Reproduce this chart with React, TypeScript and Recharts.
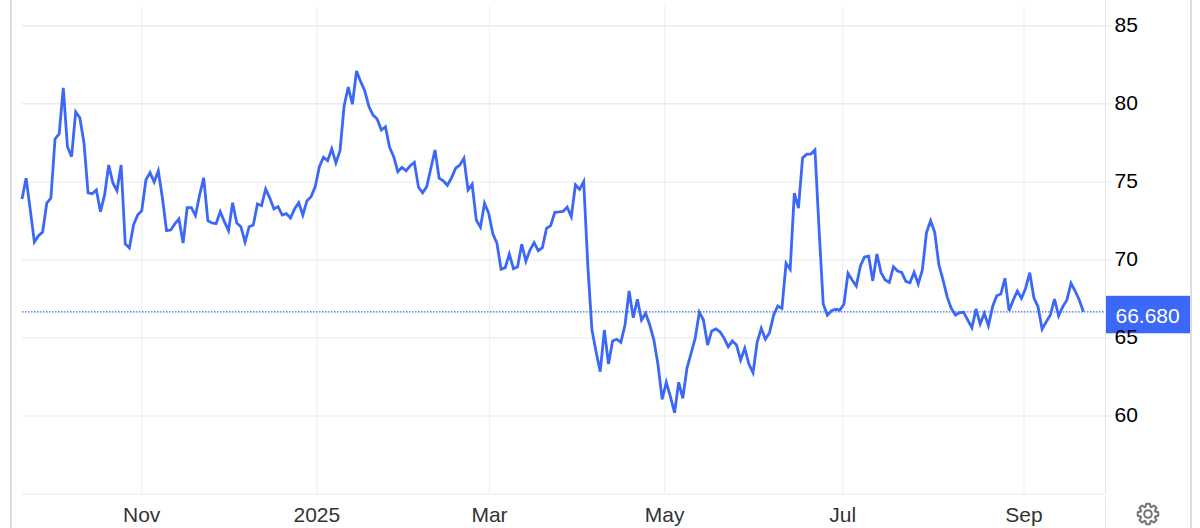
import React from 'react'
import { LineChart, Line, XAxis, YAxis, CartesianGrid, ReferenceLine } from 'recharts'

const prices = [
  73.91, 75.24, 73.21, 71.15, 71.56, 71.79, 73.65, 73.97, 77.76, 78.08, 81.03, 77.26, 76.62, 79.49, 79.12, 77.52,
  74.31, 74.25, 74.49, 73.10, 74.17, 76.09, 74.94, 74.44, 76.09, 71.03, 70.77, 72.24, 72.88, 73.16, 75.13, 75.60,
  75.00, 75.71, 73.97, 71.88, 71.92, 72.31, 72.63, 71.09, 73.35, 73.35, 72.84, 74.17, 75.26, 72.52, 72.37, 72.33,
  73.10, 72.46, 71.88, 73.67, 72.37, 72.13, 71.15, 72.13, 72.24, 73.59, 73.48, 74.55, 73.97, 73.27, 73.42, 72.88,
  72.97, 72.69, 73.27, 73.67, 72.88, 73.80, 74.06, 74.70, 75.98, 76.58, 76.37, 77.12, 76.22, 77.01, 79.89, 81.09,
  79.98, 82.12, 81.43, 80.83, 79.83, 79.29, 79.04, 78.33, 78.54, 77.22, 76.62, 75.66, 75.94, 75.72, 76.04, 76.26,
  74.66, 74.31, 74.70, 75.88, 77.05, 75.24, 75.08, 74.79, 75.26, 75.88, 76.09, 76.52, 74.49, 74.85, 72.56, 72.10,
  73.63, 72.99, 71.67, 71.07, 69.40, 69.51, 70.38, 69.44, 69.57, 71.01, 69.92, 70.64, 71.11, 70.60, 70.79, 72.03,
  72.20, 73.06, 73.08, 73.12, 73.38, 72.78, 74.81, 74.53, 75.02, 69.62, 65.51, 64.12, 62.84, 65.51, 63.33, 64.81,
  64.92, 64.72, 65.83, 68.01, 66.30, 67.48, 66.15, 66.58, 65.83, 64.87, 63.27, 61.07, 62.16, 61.24, 60.21, 62.16,
  61.13, 63.06, 64.02, 64.98, 66.65, 66.15, 64.55, 65.45, 65.58, 65.40, 64.98, 64.44, 64.81, 64.55, 63.59, 64.34,
  63.33, 62.78, 64.72, 65.62, 64.92, 65.34, 66.47, 67.05, 66.90, 69.79, 69.40, 74.29, 73.33, 76.54, 76.78, 76.79,
  77.05, 71.92, 67.18, 66.47, 66.75, 66.84, 66.78, 67.16, 69.15, 68.72, 68.33, 69.62, 70.19, 70.24, 68.67, 70.38,
  69.19, 68.72, 68.57, 69.57, 69.29, 69.21, 68.63, 68.54, 69.21, 68.46, 69.36, 71.75, 72.52, 71.78, 69.68, 68.72,
  67.65, 66.90, 66.47, 66.62, 66.65, 66.15, 65.66, 66.86, 65.90, 66.58, 65.79, 67.01, 67.71, 67.82, 68.83, 66.75,
  67.44, 68.01, 67.54, 68.19, 69.19, 67.58, 67.01, 65.56, 66.04, 66.47, 67.50, 66.41, 67.01, 67.44, 68.51, 68.01,
  67.44, 66.68,
]
const monthLabels = ['Nov', '2025', 'Mar', 'May', 'Jul', 'Sep']
const monthPositions = [28.98, 71.4, 113.2, 155.6, 198.7, 242.6]
const priceTicks = [60, 65, 70, 75, 80, 85]
const lastPrice = 66.68

const data = prices.map((price, idx) => ({ idx, price }))

const BLUE = '#3b68f6'
const FONT = 'Helvetica, "Liberation Sans", Arial, sans-serif'

// value badge on the right axis
function PriceBadge({ viewBox }: any) {
  const y = viewBox.y
  const x = viewBox.x + viewBox.width
  return (
    <g>
      <rect x={x + 2.5} y={y - 16} width={84.5} height={37.5} fill={BLUE} />
      <text x={x + 12} y={y + 11.5} fill="#fff" fontSize={21} fontFamily={FONT}>66.680</text>
    </g>
  )
}

function gearPath(cx: number, cy: number) {
  const pts: string[] = []
  for (let i = 0; i < 8; i++) {
    const a = (i * Math.PI) / 4
    for (const [r, d] of [[7.6, -0.34], [10.4, -0.17], [10.4, 0.17], [7.6, 0.34]]) {
      pts.push(`${(cx + r * Math.sin(a + d)).toFixed(2)},${(cy - r * Math.cos(a + d)).toFixed(2)}`)
    }
  }
  return 'M' + pts.join('L') + 'Z'
}

export default function App() {
  return (
    <div style={{ position: 'absolute', left: 0, top: 0, width: 1200, height: 528, background: '#fff', overflow: 'hidden' }}>
      <LineChart width={1200} height={528} data={data} margin={{ top: 6, right: 0, bottom: 0, left: 22 }}>
        <CartesianGrid horizontal={false} syncWithTicks stroke="#eef1f6" strokeWidth={1.2} />
        <CartesianGrid vertical={false} syncWithTicks stroke="#e7e7e7" strokeWidth={1.2} />
        <XAxis
          dataKey="idx"
          type="number"
          domain={[0, 261.86]}
          ticks={monthPositions}
          tickFormatter={(v: number) => monthLabels[monthPositions.indexOf(v)]}
          interval={0}
          axisLine={{ stroke: '#e7e7e7', strokeWidth: 1.2 }}
          tickLine={false}
          tickMargin={7}
          tick={{ fontSize: 21, fill: '#333', fontFamily: FONT }}
          height={34}
        />
        <YAxis
          orientation="right"
          domain={[55, 86.28]}
          ticks={priceTicks}
          interval={0}
          axisLine={false}
          tickLine={{ stroke: '#e7e7e7' }}
          tickSize={8}
          tickMargin={3}
          tick={{ fontSize: 21, fill: '#000', fontFamily: FONT, dy: -1 }}
          width={96.5}
        />
        <ReferenceLine y={lastPrice} stroke={BLUE} strokeDasharray="1.5 1.5" strokeWidth={1.2} label={<PriceBadge />} />
        <Line dataKey="price" type="linear" stroke={BLUE} strokeWidth={2.8} dot={false} isAnimationActive={false} />
      </LineChart>
      {/* frame lines and settings icon */}
      <div style={{ position: 'absolute', left: 10, top: 0, width: 1.5, height: 528, background: '#dcdcdc' }} />
      <div style={{ position: 'absolute', left: 1190, top: 0, width: 1.5, height: 528, background: '#dcdcdc' }} />
      <div style={{ position: 'absolute', left: 1105, top: 0, width: 1, height: 494, background: '#e7e7e7' }} />
      <div style={{ position: 'absolute', left: 1105, top: 497, width: 1, height: 31, background: '#e7e7e7' }} />
      <svg style={{ position: 'absolute', left: 1130, top: 496 }} width={36} height={36}>
        <path d={gearPath(18, 18)} fill="none" stroke="#757575" strokeWidth={2} strokeLinejoin="round" />
        <circle cx={18} cy={18} r={3.8} fill="none" stroke="#757575" strokeWidth={2} />
      </svg>
    </div>
  )
}
